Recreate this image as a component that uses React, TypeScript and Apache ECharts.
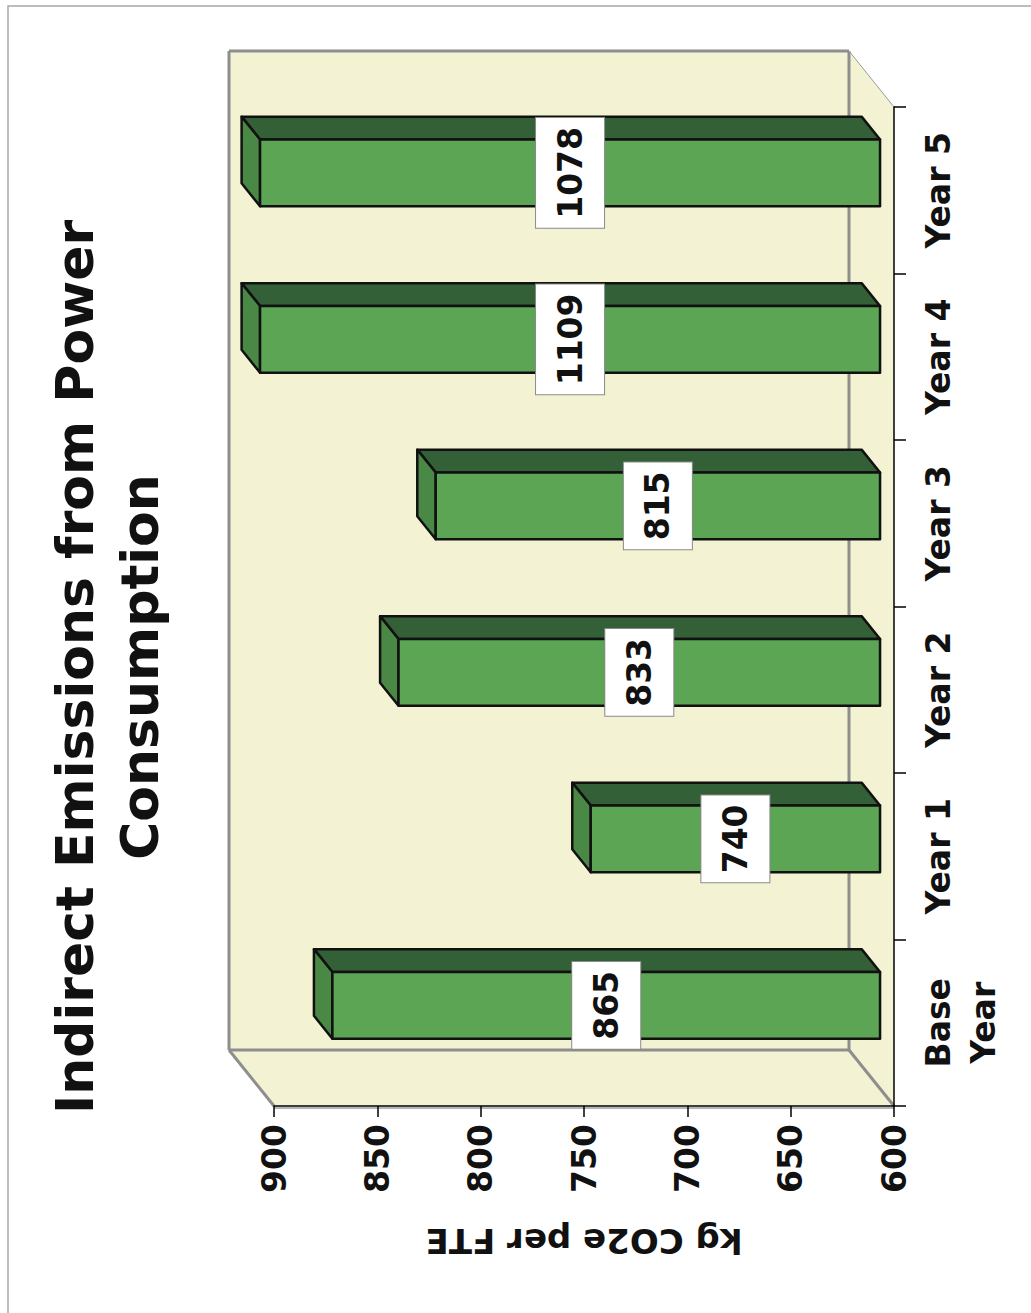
import React, { useEffect, useRef } from "react";
import * as echarts from "echarts";

const CATEGORIES = ["Base Year", "Year 1", "Year 2", "Year 3", "Year 4", "Year 5"];
const VALUES = [865, 740, 833, 815, 1109, 1078];
const AXIS_MIN = 600;
const AXIS_MAX = 900;
const AXIS_STEP = 50;
const TITLE_LINES = ["Indirect Emissions from Power", "Consumption"];
const AXIS_NAME = "kg CO2e per FTE";

const FONT = "'DejaVu Sans', Verdana, sans-serif";

// layout (front plane of the 3D box)
const GX0 = 274, GX1 = 894, GY0 = 107, GY1 = 1106;
const DX = -45, DY = -56; // depth offset to back wall
const D1 = 0.31, D2 = 0.72; // bar depth range

const WALL = "#F3F2D2";
const WALL_LINE = "#8E8E8E";
const FRONT = "#5BA555";
const TOP = "#346038";
const SIDE = "#4A8846";

export default function App() {
  const ref = useRef<HTMLDivElement>(null);
  useEffect(() => {
    if (!ref.current) return;
    const chart = echarts.init(ref.current, null, { renderer: "svg" });
    const bx0 = GX0 + DX, bx1 = GX1 + DX, by0 = GY0 + DY, by1 = GY1 + DY;
    const line = (x1: number, y1: number, x2: number, y2: number, w: number, c: string) => ({
      type: "line",
      z: 0,
      shape: { x1, y1, x2, y2 },
      style: { stroke: c, lineWidth: w },
      silent: true,
    });
    const option: any = {
      animation: false,
      backgroundColor: "#ffffff",
      grid: { left: GX0, right: 1031 - GX1, top: GY0, bottom: 1313 - GY1, containLabel: false },
      xAxis: {
        type: "value",
        inverse: true,
        min: AXIS_MIN,
        max: AXIS_MAX,
        interval: AXIS_STEP,
        position: "bottom",
        z: 5,
        splitLine: { show: false },
        axisLine: { show: true, lineStyle: { color: "#000", width: 1.5 } },
        axisTick: { show: true, length: 11, lineStyle: { color: "#000", width: 1.5 } },
        axisLabel: {
          rotate: 90,
          margin: 18,
          fontSize: 33,
          fontWeight: "bold",
          fontFamily: FONT,
          color: "#111",
        },
      },
      yAxis: {
        type: "category",
        data: CATEGORIES,
        position: "right",
        z: 5,
        axisLine: { show: true, lineStyle: { color: "#000", width: 1.5 } },
        axisTick: { show: true, length: 12, lineStyle: { color: "#000", width: 1.5 } },
        axisLabel: {
          rotate: 90,
          margin: 22,
          fontSize: 33,
          lineHeight: 45,
          fontWeight: "bold",
          fontFamily: FONT,
          color: "#111",
          formatter: (v: string) => (v === "Base Year" ? "Base\nYear" : v),
        },
      },
      graphic: [
        { type: "rect", z: 0, silent: true, shape: { x: 8, y: 6, width: 1100, height: 1400 }, style: { fill: "none", stroke: "#A8A8A8", lineWidth: 1.5 } },
        { type: "rect", z: 0, silent: true, shape: { x: bx0, y: by0, width: bx1 - bx0, height: by1 - by0 }, style: { fill: WALL } },
        { type: "polygon", z: 0, silent: true, shape: { points: [[bx1, by0], [GX1, GY0], [GX1, GY1], [bx1, by1]] }, style: { fill: WALL } },
        { type: "polygon", z: 0, silent: true, shape: { points: [[bx0, by1], [bx1, by1], [GX1, GY1], [GX0, GY1]] }, style: { fill: WALL } },
        line(bx0, by0, bx1, by0, 3, WALL_LINE),
        line(bx0, by0, bx0, by1, 3, WALL_LINE),
        line(bx0, by1, bx1, by1, 3, WALL_LINE),
        line(bx1, by0, bx1, by1, 3, WALL_LINE),
        line(bx0, by1, GX0, GY1, 3, WALL_LINE),
        line(bx1, by1, GX1, GY1, 3, WALL_LINE),
        line(bx1, by0, GX1, GY0, 1, "#9A9A9A"),
        line(GX0, GY1 + 2, GX1, GY1 + 2, 2, "#B4B4B4"),
        {
          type: "text",
          z: 10,
          x: 107,
          y: 667,
          rotation: Math.PI / 2,
          style: {
            text: TITLE_LINES.join("\n"),
            fontSize: 52,
            fontWeight: "bold",
            fontFamily: FONT,
            fill: "#111",
            align: "center",
            verticalAlign: "middle",
            lineHeight: 65,
          },
        },
        {
          type: "text",
          z: 10,
          x: 584,
          y: 1241,
          rotation: Math.PI,
          style: {
            text: AXIS_NAME,
            fontSize: 34,
            fontWeight: "bold",
            fontFamily: FONT,
            fill: "#111",
            align: "center",
            verticalAlign: "middle",
          },
        },
      ],
      series: [
        {
          type: "custom",
          z: 2,
          clip: false,
          encode: { x: 0, y: 1 },
          data: VALUES.map((v, i) => [v, i]),
          renderItem: (params: any, api: any) => {
            const v = api.value(0);
            const i = api.value(1);
            const vc = Math.min(v, AXIS_MAX);
            const top = api.coord([vc, i]);
            const base = api.coord([AXIS_MIN, i]);
            const band = api.size([0, 1])[1];
            const fx = D1 * DX, fy = D1 * DY;
            const bx = (D2 - D1) * DX, by = (D2 - D1) * DY;
            const L = top[0] + fx;
            const R = base[0] + fx;
            const cy = top[1] + fy;
            const h = band * 0.2;
            const T = cy - h, B = cy + h;
            const stroke = { stroke: "#111", lineWidth: 2.5, lineJoin: "round" };
            return {
              type: "group",
              children: [
                {
                  type: "polygon",
                  shape: { points: [[L, T], [R, T], [R + bx, T + by], [L + bx, T + by]] },
                  style: { fill: TOP, ...stroke },
                },
                {
                  type: "polygon",
                  shape: { points: [[L, T], [L, B], [L + bx, B + by], [L + bx, T + by]] },
                  style: { fill: SIDE, ...stroke },
                },
                {
                  type: "rect",
                  shape: { x: L, y: T, width: R - L, height: B - T },
                  style: { fill: FRONT, ...stroke },
                },
                {
                  type: "text",
                  x: (L + R) / 2,
                  y: cy,
                  rotation: Math.PI / 2,
                  style: {
                    text: String(v),
                    fontSize: 33,
                    fontWeight: "bold",
                    fontFamily: FONT,
                    fill: "#111",
                    align: "center",
                    verticalAlign: "middle",
                    lineHeight: 34,
                    backgroundColor: "#ffffff",
                    borderColor: "#8A8A8A",
                    borderWidth: 1,
                    padding: [17, 9, 17, 9],
                  },
                },
              ],
            };
          },
        },
      ],
    };
    chart.setOption(option);
    return () => chart.dispose();
  }, []);
  return (
    <div
      ref={ref}
      style={{ position: "absolute", left: 0, top: 0, width: 1031, height: 1313 }}
    />
  );
}
